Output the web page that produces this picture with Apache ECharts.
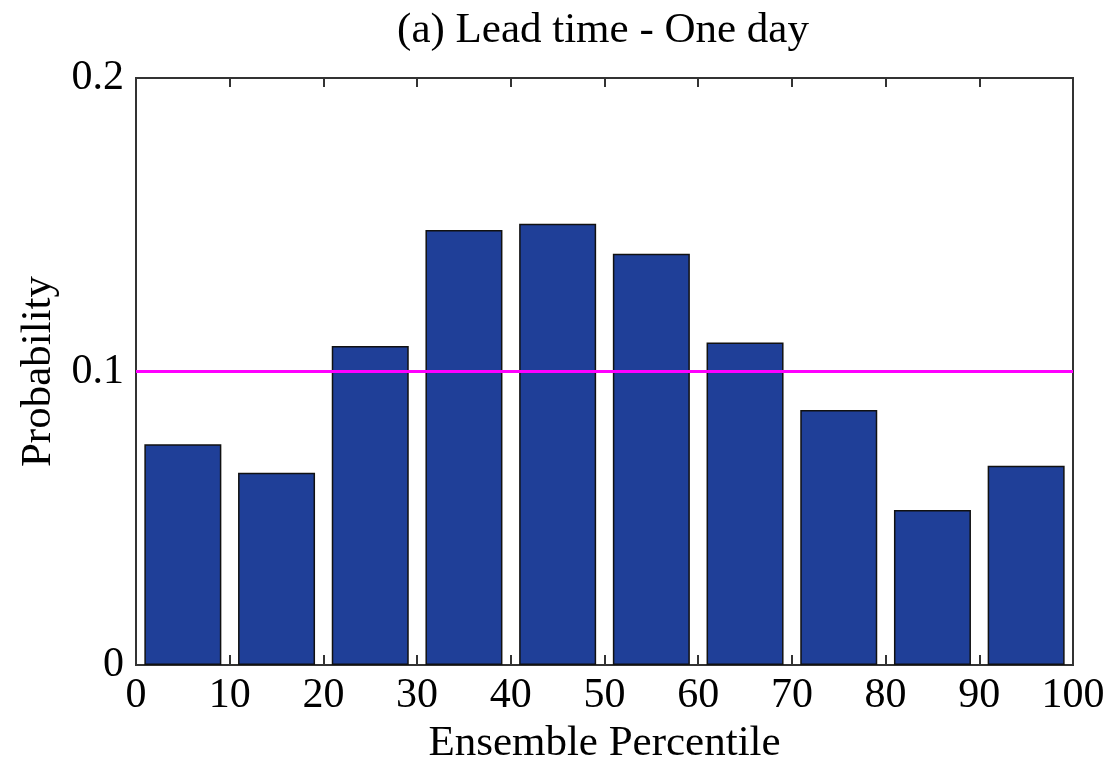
<!DOCTYPE html>
<html>
<head>
<meta charset="utf-8">
<script src="https://cdn.jsdelivr.net/npm/echarts@6/dist/echarts.min.js"></script>
<style>
html,body{margin:0;padding:0;background:#fff;}
#chart{width:1112px;height:764px;}
</style>
</head>
<body>
<div id="chart"></div>
<script>
// Data
const binCenters = [5, 15, 25, 35, 45, 55, 65, 75, 85, 95];
const probabilities = [0.0752, 0.0655, 0.1087, 0.1482, 0.1503, 0.1401, 0.1099, 0.0869, 0.0528, 0.0679];
const uniformLevel = [[0, 0.1], [100, 0.1]];
const titleText = '(a) Lead time - One day';
const xName = 'Ensemble Percentile';
const yName = 'Probability';

const FONT = 'Liberation Serif';
const chart = echarts.init(document.getElementById('chart'), null, {renderer: 'canvas'});
const gridL = 136, gridR = 39, gridT = 78, gridB = 99;

chart.setOption({
  animation: false,
  backgroundColor: '#ffffff',
  title: {
    text: titleText,
    left: 598,
    textAlign: 'center',
    top: 4,
    textStyle: {fontFamily: FONT, fontSize: 43, fontWeight: 'normal', color: '#000'}
  },
  grid: {
    left: gridL, right: gridR, top: gridT, bottom: gridB,
    outerBoundsMode: 'none', containLabel: false,
    show: true, borderColor: '#333', borderWidth: 2, backgroundColor: 'transparent'
  },
  xAxis: [{
    type: 'value', min: 0, max: 100, interval: 10, position: 'bottom',
    name: xName, nameLocation: 'middle', nameGap: 56,
    nameTextStyle: {fontFamily: FONT, fontSize: 43, color: '#000'},
    axisLine: {show: false},
    axisTick: {show: true, inside: true, length: 10, lineStyle: {color: '#333', width: 2}},
    axisLabel: {fontFamily: FONT, fontSize: 42, color: '#000', margin: 10},
    splitLine: {show: false}
  }, {
    type: 'value', min: 0, max: 100, interval: 10, position: 'top',
    axisLine: {show: false},
    axisTick: {show: true, inside: true, length: 9, lineStyle: {color: '#333', width: 2}},
    axisLabel: {show: false},
    splitLine: {show: false}
  }],
  yAxis: {
    type: 'value', min: 0, max: 0.2, interval: 0.1,
    name: yName, nameLocation: 'middle', nameGap: 76,
    nameTextStyle: {fontFamily: FONT, fontSize: 43, color: '#000'},
    axisLine: {show: false},
    axisTick: {show: false},
    axisLabel: {fontFamily: FONT, fontSize: 42, color: '#000', margin: 12},
    splitLine: {show: false}
  },
  series: [{
    type: 'bar',
    xAxisIndex: 0,
    data: binCenters.map((c, i) => [c, probabilities[i]]),
    barWidth: 77,
    itemStyle: {color: '#1F3F98', borderColor: '#111', borderWidth: 1.5},
    z: 2
  }, {
    type: 'line',
    xAxisIndex: 0,
    data: uniformLevel,
    symbol: 'none',
    lineStyle: {color: '#FF00FF', width: 3},
    z: 5
  }]
});
</script>
</body>
</html>
